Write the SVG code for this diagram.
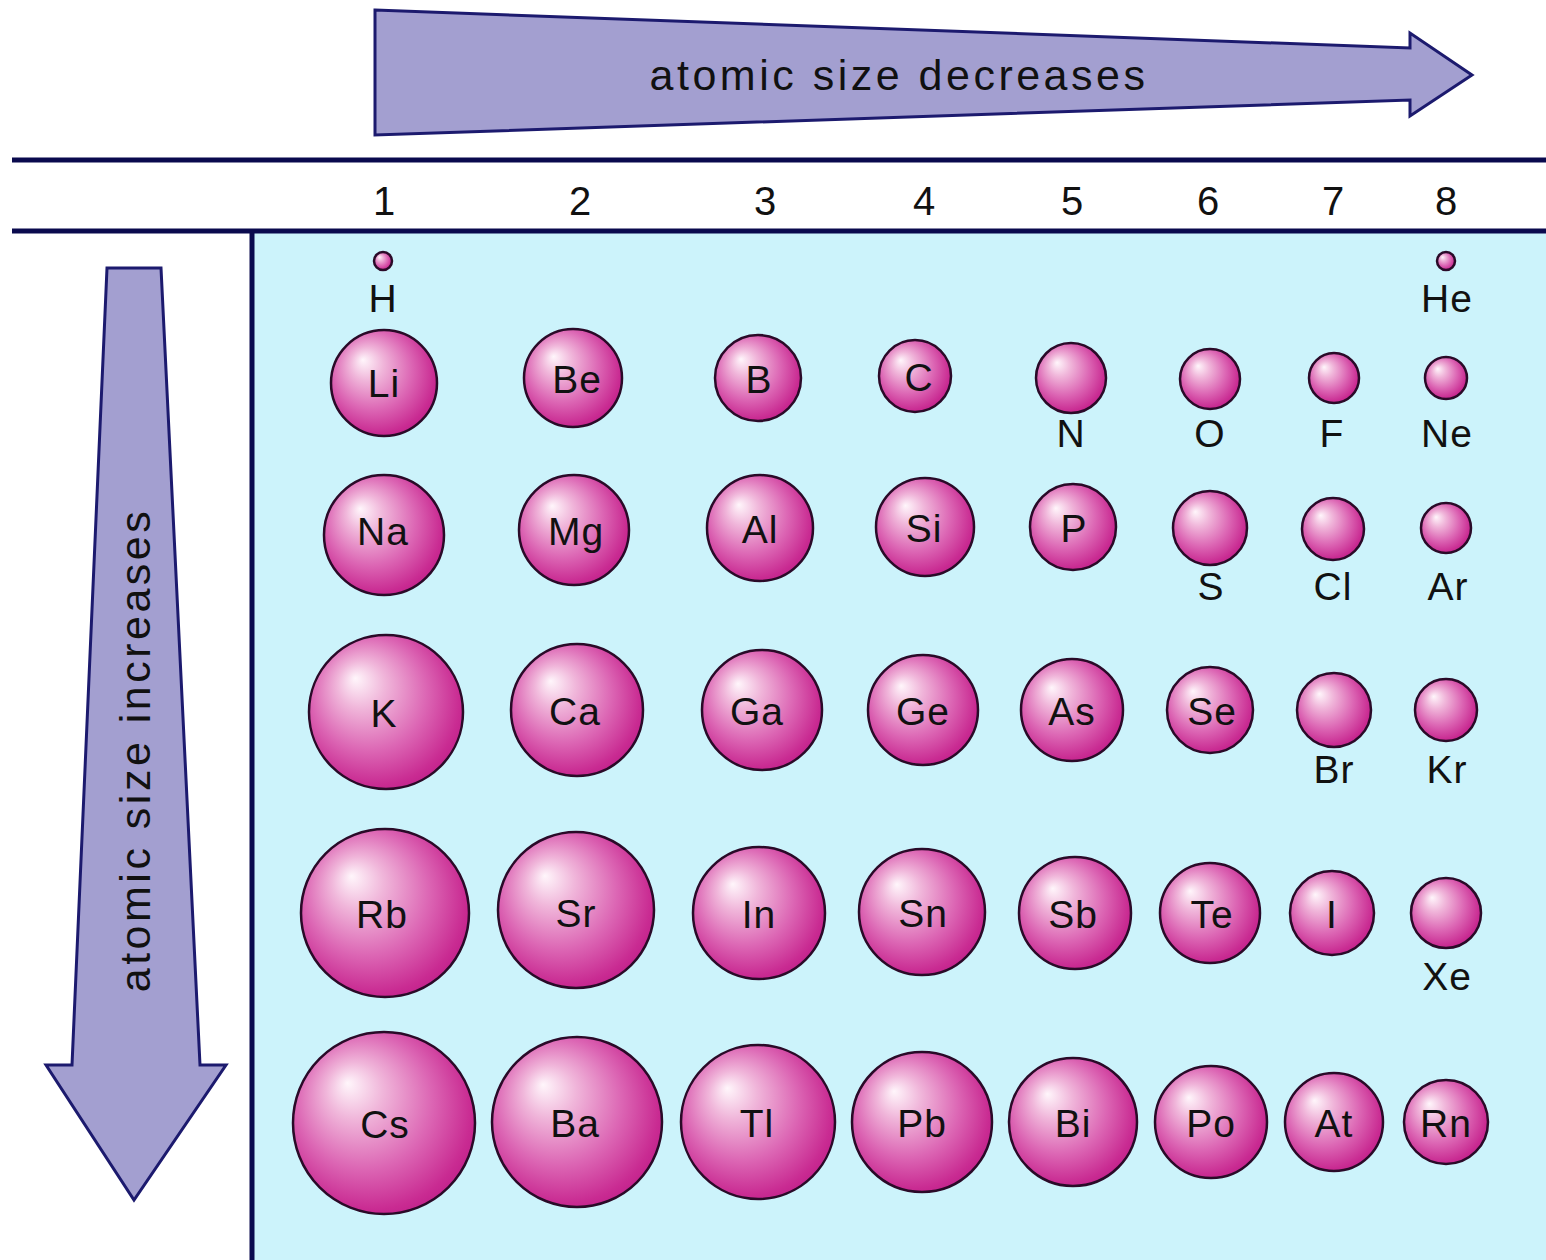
<svg xmlns="http://www.w3.org/2000/svg" width="1546" height="1260" viewBox="0 0 1546 1260">
<defs>
<radialGradient id="ball" cx="0.45" cy="0.45" r="0.62" fx="0.3" fy="0.28">
<stop offset="0" stop-color="#FFF6FB"/>
<stop offset="0.25" stop-color="#F0B6DA"/>
<stop offset="0.6" stop-color="#DC66B4"/>
<stop offset="0.88" stop-color="#C92B92"/>
<stop offset="1" stop-color="#BE1C88"/>
</radialGradient>
<style>
.ball{fill:url(#ball);stroke:#2A0A28;stroke-width:2.5}
.lbl{font-family:"Liberation Sans",Arial,sans-serif;font-size:39px;fill:#111;text-anchor:middle;letter-spacing:1px}
.num{font-family:"Liberation Sans",Arial,sans-serif;font-size:40px;fill:#111;text-anchor:middle}
.arrow{fill:#A39FD0;stroke:#1C1A6E;stroke-width:3;stroke-linejoin:miter}
.atxt{font-family:"Liberation Sans",Arial,sans-serif;font-size:43px;fill:#111;text-anchor:middle;letter-spacing:3.5px}
.rule{stroke:#0A0A4E;stroke-width:5;fill:none}
</style>
</defs>
<rect x="0" y="0" width="1546" height="1260" fill="#FFFFFF"/>
<rect x="254" y="233" width="1292" height="1027" fill="#CCF3FB"/>
<g id="rules">
<line class="rule" x1="12" y1="160" x2="1546" y2="160"/>
<line class="rule" x1="12" y1="231" x2="1546" y2="231"/>
<line class="rule" x1="252" y1="231" x2="252" y2="1260"/>
</g>
<g id="arrow-top">
<polygon class="arrow" points="375,10 1410,48 1410,33 1472,75 1410,116 1410,100 375,135"/>
<text class="atxt" x="899" y="90">atomic size decreases</text>
</g>
<g id="arrow-left">
<polygon class="arrow" points="107,268 161,268 200,1065 226,1065 134,1200 46,1065 72,1065"/>
<text class="atxt" transform="translate(150,750) rotate(-90)" x="0" y="0">atomic size increases</text>
</g>
<g id="group-numbers">
<text class="num" x="384" y="215">1</text>
<text class="num" x="580" y="215">2</text>
<text class="num" x="765" y="215">3</text>
<text class="num" x="924" y="215">4</text>
<text class="num" x="1072" y="215">5</text>
<text class="num" x="1208" y="215">6</text>
<text class="num" x="1333" y="215">7</text>
<text class="num" x="1446" y="215">8</text>
</g>
<g id="connectors"></g>
<g id="H"><circle class="ball" cx="383" cy="261" r="9"/><text class="lbl" x="383" y="312">H</text></g>
<g id="He"><circle class="ball" cx="1446" cy="261" r="9"/><text class="lbl" x="1447" y="312">He</text></g>

<g id="Li"><circle class="ball" cx="384" cy="383" r="53"/><text class="lbl" x="384" y="397">Li</text></g>
<g id="Be"><circle class="ball" cx="573" cy="378" r="49"/><text class="lbl" x="577" y="393">Be</text></g>
<g id="B"><circle class="ball" cx="758" cy="378" r="43"/><text class="lbl" x="759" y="393">B</text></g>
<g id="C"><circle class="ball" cx="915" cy="376" r="36"/><text class="lbl" x="919" y="391">C</text></g>
<g id="N"><circle class="ball" cx="1071" cy="378" r="35"/><text class="lbl" x="1071" y="447">N</text></g>
<g id="O"><circle class="ball" cx="1210" cy="379" r="30"/><text class="lbl" x="1210" y="447">O</text></g>
<g id="F"><circle class="ball" cx="1334" cy="378" r="25"/><text class="lbl" x="1332" y="447">F</text></g>
<g id="Ne"><circle class="ball" cx="1446" cy="378" r="21"/><text class="lbl" x="1447" y="447">Ne</text></g>

<g id="Na"><circle class="ball" cx="384" cy="535" r="60"/><text class="lbl" x="383" y="545">Na</text></g>
<g id="Mg"><circle class="ball" cx="574" cy="530" r="55"/><text class="lbl" x="576" y="545">Mg</text></g>
<g id="Al"><circle class="ball" cx="760" cy="528" r="53"/><text class="lbl" x="760" y="543">Al</text></g>
<g id="Si"><circle class="ball" cx="925" cy="527" r="49"/><text class="lbl" x="924" y="542">Si</text></g>
<g id="P"><circle class="ball" cx="1073" cy="527" r="43"/><text class="lbl" x="1074" y="542">P</text></g>
<g id="S"><circle class="ball" cx="1210" cy="528" r="37"/><text class="lbl" x="1211" y="600">S</text></g>
<g id="Cl"><circle class="ball" cx="1333" cy="529" r="31"/><text class="lbl" x="1333" y="600">Cl</text></g>
<g id="Ar"><circle class="ball" cx="1446" cy="528" r="25"/><text class="lbl" x="1448" y="600">Ar</text></g>

<g id="K"><circle class="ball" cx="386" cy="712" r="77"/><text class="lbl" x="384" y="727">K</text></g>
<g id="Ca"><circle class="ball" cx="577" cy="710" r="66"/><text class="lbl" x="575" y="725">Ca</text></g>
<g id="Ga"><circle class="ball" cx="762" cy="710" r="60"/><text class="lbl" x="757" y="725">Ga</text></g>
<g id="Ge"><circle class="ball" cx="923" cy="710" r="55"/><text class="lbl" x="923" y="725">Ge</text></g>
<g id="As"><circle class="ball" cx="1072" cy="710" r="51"/><text class="lbl" x="1072" y="725">As</text></g>
<g id="Se"><circle class="ball" cx="1210" cy="710" r="43"/><text class="lbl" x="1212" y="725">Se</text></g>
<g id="Br"><circle class="ball" cx="1334" cy="710" r="37"/><text class="lbl" x="1334" y="783">Br</text></g>
<g id="Kr"><circle class="ball" cx="1446" cy="710" r="31"/><text class="lbl" x="1447" y="783">Kr</text></g>

<g id="Rb"><circle class="ball" cx="385" cy="913" r="84"/><text class="lbl" x="382" y="928">Rb</text></g>
<g id="Sr"><circle class="ball" cx="576" cy="910" r="78"/><text class="lbl" x="576" y="927">Sr</text></g>
<g id="In"><circle class="ball" cx="759" cy="913" r="66"/><text class="lbl" x="759" y="928">In</text></g>
<g id="Sn"><circle class="ball" cx="922" cy="912" r="63"/><text class="lbl" x="923" y="927">Sn</text></g>
<g id="Sb"><circle class="ball" cx="1075" cy="913" r="56"/><text class="lbl" x="1073" y="928">Sb</text></g>
<g id="Te"><circle class="ball" cx="1210" cy="913" r="50"/><text class="lbl" x="1212" y="928">Te</text></g>
<g id="I"><circle class="ball" cx="1332" cy="913" r="42"/><text class="lbl" x="1332" y="928">I</text></g>
<g id="Xe"><circle class="ball" cx="1446" cy="913" r="35"/><text class="lbl" x="1447" y="990">Xe</text></g>

<g id="Cs"><circle class="ball" cx="384" cy="1123" r="91"/><text class="lbl" x="385" y="1138">Cs</text></g>
<g id="Ba"><circle class="ball" cx="577" cy="1122" r="85"/><text class="lbl" x="575" y="1137">Ba</text></g>
<g id="Tl"><circle class="ball" cx="758" cy="1122" r="77"/><text class="lbl" x="757" y="1137">Tl</text></g>
<g id="Pb"><circle class="ball" cx="922" cy="1122" r="70"/><text class="lbl" x="922" y="1137">Pb</text></g>
<g id="Bi"><circle class="ball" cx="1073" cy="1122" r="64"/><text class="lbl" x="1073" y="1137">Bi</text></g>
<g id="Po"><circle class="ball" cx="1211" cy="1122" r="56"/><text class="lbl" x="1211" y="1137">Po</text></g>
<g id="At"><circle class="ball" cx="1334" cy="1122" r="49"/><text class="lbl" x="1334" y="1137">At</text></g>
<g id="Rn"><circle class="ball" cx="1446" cy="1122" r="42"/><text class="lbl" x="1446" y="1137">Rn</text></g>
</svg>
